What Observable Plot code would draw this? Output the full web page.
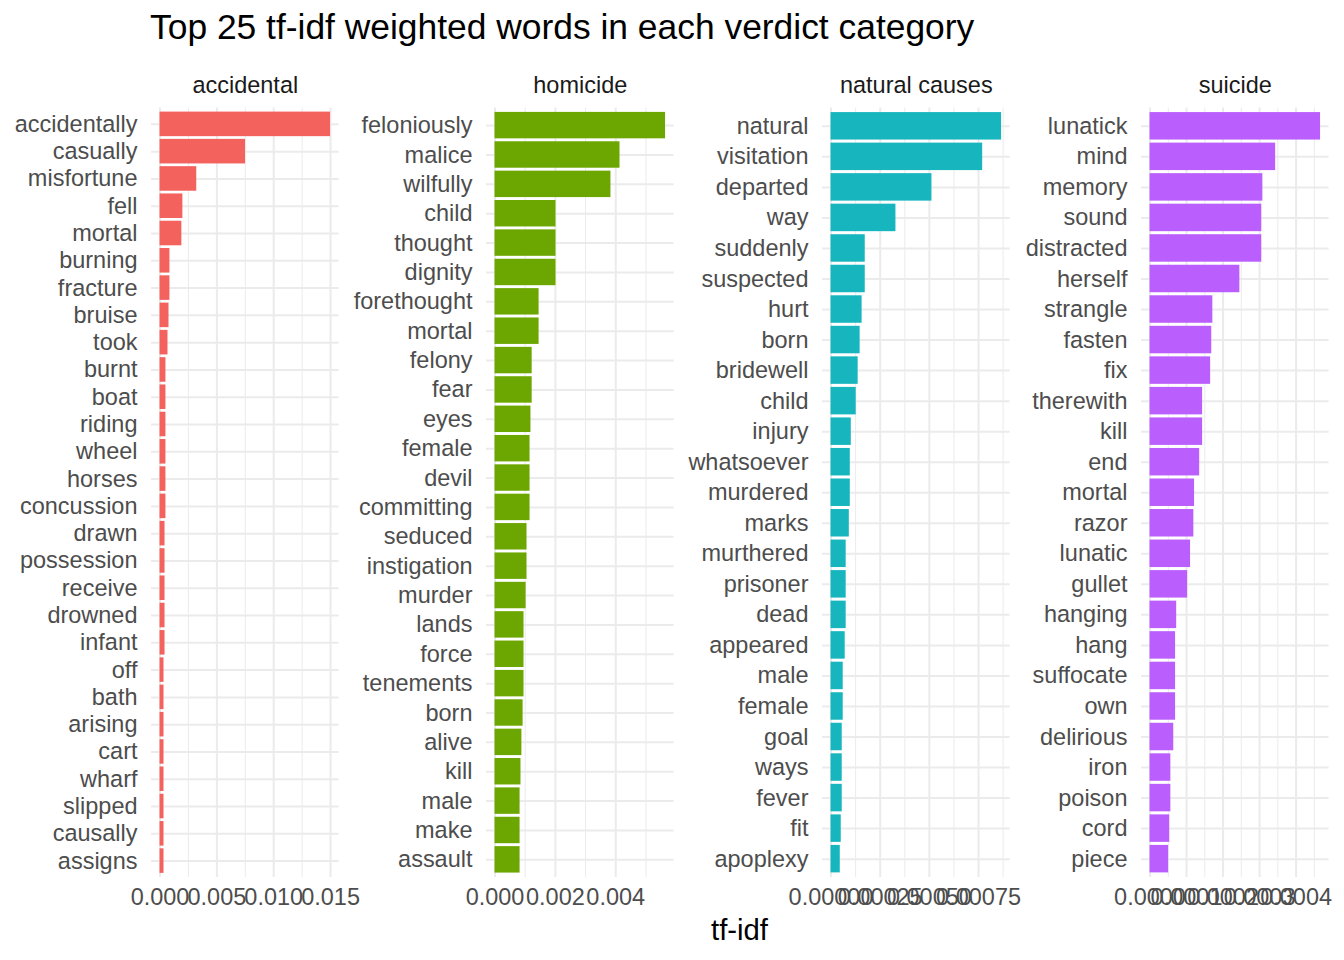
<!DOCTYPE html>
<html>
<head>
<meta charset="utf-8">
<script src="https://cdn.jsdelivr.net/npm/d3@7"></script>
<script src="https://cdn.jsdelivr.net/npm/@observablehq/plot@0.6"></script>
<style>
  body { margin: 0; background: #ffffff; }
  #chart { position: relative; width: 1344px; height: 960px; overflow: hidden;
    font-family: "Liberation Sans", Arial, Helvetica, sans-serif; background: #ffffff; }
  #title { position: absolute; left: 150px; top: 10px; font-size: 35.4px; line-height: 1; color: #000; white-space: nowrap; }
  #xlabel { position: absolute; left: 639.5px; width: 200px; text-align: center; top: 915px; font-size: 29.3px; line-height: 1; color: #000; }
  .facet { position: absolute; top: 50px; }
</style>
</head>
<body>
<div id="chart">
  <div id="title">Top 25 tf-idf weighted words in each verdict category</div>
  <div id="xlabel">tf-idf</div>
</div>
<script>
// ---- data ----
const facetNames = ["accidental", "homicide", "natural causes", "suicide"];
const facetColors = ["#F4625E", "#6CA600", "#17B6BF", "#BA5FFD"];

const accidentalWords = ["accidentally","casually","misfortune","fell","mortal","burning","fracture","bruise","took","burnt","boat","riding","wheel","horses","concussion","drawn","possession","receive","drowned","infant","off","bath","arising","cart","wharf","slipped","causally","assigns"];
const accidentalValues = [0.0150,0.00752,0.00323,0.00201,0.00192,0.00087,0.00087,0.00079,0.00070,0.00052,0.00052,0.00052,0.00052,0.00052,0.00052,0.00044,0.00044,0.00044,0.00044,0.00044,0.00035,0.00035,0.00035,0.00035,0.00035,0.00035,0.00035,0.00035];

const homicideWords = ["feloniously","malice","wilfully","child","thought","dignity","forethought","mortal","felony","fear","eyes","female","devil","committing","seduced","instigation","murder","lands","force","tenements","born","alive","kill","male","make","assault"];
const homicideValues = [0.00565,0.00414,0.00384,0.00202,0.00202,0.00202,0.00146,0.00146,0.00123,0.00123,0.00119,0.00116,0.00116,0.00116,0.00106,0.00106,0.00103,0.00096,0.00096,0.00096,0.00093,0.00089,0.00086,0.00083,0.00083,0.00083];

const naturalWords = ["natural","visitation","departed","way","suddenly","suspected","hurt","born","bridewell","child","injury","whatsoever","murdered","marks","murthered","prisoner","dead","appeared","male","female","goal","ways","fever","fit","apoplexy"];
const naturalValues = [0.000867,0.000771,0.000513,0.000330,0.000174,0.000174,0.000158,0.000148,0.000138,0.000128,0.000103,0.000098,0.000098,0.000093,0.000077,0.000077,0.000077,0.000072,0.000062,0.000062,0.000057,0.000057,0.000057,0.000052,0.000047];

const suicideWords = ["lunatick","mind","memory","sound","distracted","herself","strangle","fasten","fix","therewith","kill","end","mortal","razor","lunatic","gullet","hanging","hang","suffocate","own","delirious","iron","poison","cord","piece"];
const suicideValues = [0.000467,0.000344,0.000309,0.000306,0.000306,0.000246,0.000172,0.000169,0.000166,0.000144,0.000144,0.000136,0.000122,0.000120,0.000111,0.000103,0.000073,0.000070,0.000070,0.000070,0.000065,0.000057,0.000057,0.000054,0.000051];

// tick labels per facet
const accidentalTicks = [0, 0.005, 0.010, 0.015];
const accidentalTickLabels = ["0.000","0.005","0.010","0.015"];
const homicideTicks = [0, 0.002, 0.004];
const homicideTickLabels = ["0.000","0.002","0.004"];
const naturalTicks = [0, 0.00025, 0.00050, 0.00075];
const naturalTickLabels = ["0.00000","0.00025","0.00050","0.00075"];
const suicideTicks = [0, 0.0001, 0.0002, 0.0003, 0.0004];
const suicideTickLabels = ["0.0000","0.0001","0.0002","0.0003","0.0004"];

const facetWords = [accidentalWords, homicideWords, naturalWords, suicideWords];
const facetValues = [accidentalValues, homicideValues, naturalValues, suicideValues];
const facetTicks = [accidentalTicks, homicideTicks, naturalTicks, suicideTicks];
const facetTickLabels = [accidentalTickLabels, homicideTickLabels, naturalTickLabels, suicideTickLabels];

// ---- layout ----
const panelLefts = [150.7, 486, 822.3, 1140.7];
const panelWidth = 187.6;
const mLeft = 140, mRight = 10, mTop = 57.5, mBottom = 40;
const panelHeight = 769.5;
const grid = "#EBEBEB";

const chart = document.getElementById("chart");

facetNames.forEach((name, i) => {
  const words = facetWords[i];
  const values = facetValues[i];
  const rows = words.map((w, j) => ({word: w, value: values[j]}));
  const M = d3.max(values);
  const ticks = facetTicks[i];
  const labels = facetTickLabels[i];
  const step = ticks[1] - ticks[0];
  const minor = [];
  for (let k = -1; k <= ticks.length + 1; k++) {
    const v = (k + 0.5) * step;
    if (v >= -0.05 * M && v <= 1.05 * M) minor.push(v);
  }
  const fmt = d => labels[ticks.findIndex(t => Math.abs(t - d) < step * 1e-6)] ?? "";

  const svg = Plot.plot({
    width: mLeft + panelWidth + mRight,
    height: mTop + panelHeight + mBottom,
    marginLeft: mLeft,
    marginRight: mRight,
    marginTop: mTop,
    marginBottom: mBottom,
    style: {background: "transparent", fontSize: "23.5px",
      fontFamily: '"Liberation Sans", Arial, Helvetica, sans-serif', color: "#4D4D4D", overflow: "visible"},
    x: {domain: [-0.05 * M, 1.05 * M], label: null},
    y: {type: "band", domain: words, paddingInner: 0.1, paddingOuter: 0.15, align: 0.5, round: false, label: null},
    marks: [
      Plot.gridX({ticks: minor, stroke: grid, strokeOpacity: 1, strokeWidth: 1}),
      Plot.gridX({ticks: ticks, stroke: grid, strokeOpacity: 1, strokeWidth: 2}),
      Plot.gridY({stroke: grid, strokeOpacity: 1, strokeWidth: 2}),
      Plot.barX(rows, {x: "value", y: "word", fill: facetColors[i]}),
      Plot.axisX({ticks: ticks, tickFormat: fmt, tickSize: 0, tickPadding: 11, label: null, fill: "#4D4D4D"}),
      Plot.axisY({tickSize: 0, tickPadding: 14, label: null, fill: "#4D4D4D"}),
      Plot.text([name], {frameAnchor: "top", dy: -22.5, lineAnchor: "middle", text: d => d, fill: "#1A1A1A", fontSize: 23.5})
    ]
  });
  svg.classList.add("facet");
  svg.style.left = (panelLefts[i] - mLeft) + "px";
  svg.style.top = "50px";
  svg.style.position = "absolute";
  chart.appendChild(svg);
});
</script>
</body>
</html>
